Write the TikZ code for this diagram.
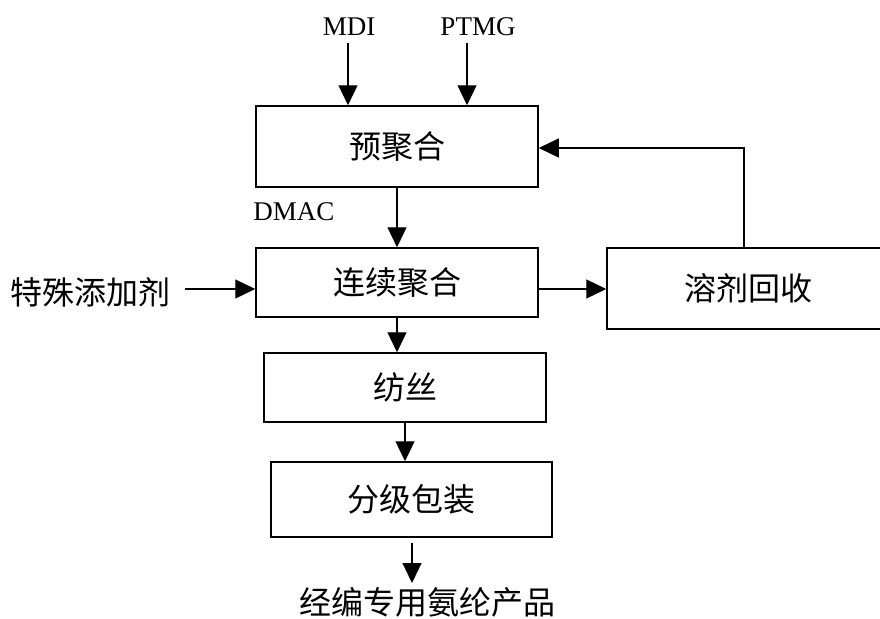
\documentclass[tikz,border=0pt]{standalone}
\usepackage{fontspec}
\setmainfont{Liberation Serif}
\newfontfamily\cjk{Noto Sans CJK SC}
\usetikzlibrary{arrows.meta}

\tikzset{
  proc/.style={draw, line width=1.5pt, minimum width=282pt, inner sep=0pt,
    font=\cjk\fontsize{32}{32}\selectfont},
  lbl/.style={font=\fontsize{27}{27}\selectfont, inner sep=0pt},
  cn/.style={font=\cjk\fontsize{32}{32}\selectfont, inner sep=0pt},
  flow/.style={line width=1.2pt, -{Triangle[length=20pt,width=19pt]}}
}

\begin{document}
\begin{tikzpicture}[x=1pt,y=-1pt]
  \useasboundingbox (0,0) rectangle (880,618);
  \clip (0,0) rectangle (880,618);

  \node[lbl] (mdi) at (349,27) {MDI};
  \node[lbl] (ptmg) at (478,27) {PTMG};
  \node[lbl] (dmac) at (294,212) {DMAC};
  \node[cn] (add) at (90,292) {特殊添加剂};
  \node[cn] (prod) at (427,602) {经编专用氨纶产品};

  \node[proc, minimum height=81pt] (pre) at (397,146.5) {预聚合};
  \node[proc, minimum height=69pt] (cont) at (397,282.5) {连续聚合};
  \node[proc, minimum height=69pt] (spin) at (405,387.5) {纺丝};
  \node[proc, minimum height=75pt, minimum width=281pt] (pack) at (411.5,499.5) {分级包装};
  \node[proc, minimum height=81pt] (rec) at (748,288.5) {溶剂回收};

  \coordinate (mdiin) at (348,43);
  \coordinate (ptmgin) at (467,43);
  \coordinate (addout) at (185,289);
  \coordinate (solv) at (538,289);
  \coordinate (back) at (744,148);
  \coordinate (out) at (412,543);

  \draw[flow] (mdiin) -- (mdiin |- pre.north);
  \draw[flow] (ptmgin) -- (ptmgin |- pre.north);
  \draw[flow] (pre) -- (cont);
  \draw[flow] (addout) -- (addout -| cont.west);
  \draw[flow] (solv) -- (solv -| rec.west);
  \draw[flow] (back |- rec.north) -- (back) -- (back -| pre.east);
  \draw[flow] (cont.south) -- (cont.south |- spin.north);
  \draw[flow] (spin.south) -- (spin.south |- pack.north);
  \draw[flow] (out) -- ++(0,40);
\end{tikzpicture}
\end{document}
